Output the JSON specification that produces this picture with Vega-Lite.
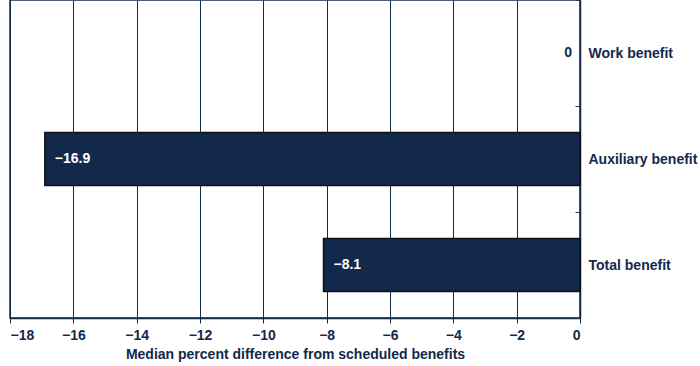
{
  "$schema": "https://vega.github.io/schema/vega-lite/v6.json",
  "width": 570,
  "height": 318,
  "autosize": "none",
  "padding": {"left": 10, "top": 0, "right": 120, "bottom": 48},
  "background": "white",
  "config": {
    "font": "Liberation Sans",
    "view": {"stroke": "#13294B", "strokeWidth": 1.5},
    "axis": {"labelFont": "Liberation Sans", "titleFont": "Liberation Sans"}
  },
  "data": {
    "values": [
      {"category": "Work benefit", "value": 0, "label": "0"},
      {"category": "Auxiliary benefit", "value": -16.9, "label": "−16.9"},
      {"category": "Total benefit", "value": -8.1, "label": "−8.1"}
    ]
  },
  "encoding": {
    "y": {
      "field": "category",
      "type": "nominal",
      "sort": null,
      "scale": {"domain": ["Work benefit", "Auxiliary benefit", "Total benefit"], "paddingInner": 0, "paddingOuter": 0},
      "axis": {
        "orient": "right",
        "title": null,
        "labelFontWeight": "bold",
        "labelFontSize": 14,
        "labelColor": "#13294B",
        "labelPadding": 13,
        "tickBand": "extent",
        "tickSize": -5,
        "tickColor": "#333",
        "domainColor": "#13294B",
        "domainWidth": 1.5
      }
    },
    "x": {
      "field": "value",
      "type": "quantitative",
      "scale": {"domain": [-18, 0], "nice": false},
      "axis": {
        "values": [-18, -16, -14, -12, -10, -8, -6, -4, -2, 0],
        "title": "Median percent difference from scheduled benefits",
        "titleFontWeight": "bold",
        "titleFontSize": 14,
        "titleColor": "#13294B",
        "titlePadding": 5,
        "labelFontWeight": "bold",
        "labelFontSize": 14,
        "labelColor": "#13294B",
        "labelPadding": 5,
        "tickSize": 5,
        "tickColor": "#13294B",
        "domainColor": "#13294B",
        "domainWidth": 1.5,
        "grid": true,
        "gridColor": "#13294B",
        "gridWidth": 1,
        "gridOpacity": 1
      }
    }
  },
  "layer": [
    {
      "transform": [{"filter": "datum.value < 0"}],
      "mark": {"type": "bar", "color": "#13294B", "stroke": "#111", "strokeWidth": 1.5, "height": {"band": 0.5}}
    },
    {
      "transform": [{"filter": "datum.value < 0"}],
      "mark": {"type": "text", "align": "left", "dx": 10, "color": "white", "fontWeight": "bold", "fontSize": 14, "font": "Liberation Sans"},
      "encoding": {"text": {"field": "label"}}
    },
    {
      "transform": [{"filter": "datum.value == 0"}],
      "mark": {"type": "text", "align": "right", "dx": -8, "color": "#13294B", "fontWeight": "bold", "fontSize": 14, "font": "Liberation Sans"},
      "encoding": {"text": {"field": "label"}}
    }
  ]
}
